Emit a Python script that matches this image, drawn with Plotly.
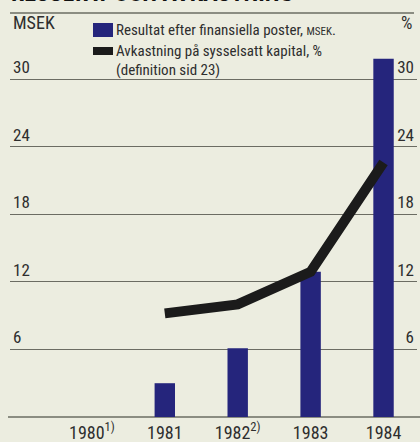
import plotly.graph_objects as go

# Data
years = ["1980", "1981", "1982", "1983", "1984"]
year_notes = ["1)", "", "2)", "", ""]
result_msek = [None, 3.0, 6.1, 12.9, 31.8]      # Resultat efter finansiella poster, MSEK
return_pct = [None, 9.2, 10.0, 12.9, 22.6]      # Avkastning på sysselsatt kapital, %
y_ticks = [6, 12, 18, 24, 30]

title_text = "RESULTAT OCH AVKASTNING"
legend_bar = "Resultat efter finansiella poster, <span style='font-size:11px'>MSEK</span>."
legend_line = "Avkastning på sysselsatt kapital, %"
legend_note = "(definition sid 23)"

# Styling
W, H = 420, 442
L, R, T, B = 10, 417, 34, 417          # plot area in pixels
BG = "#ecede0"
BAR = "#25257c"
LINE = "#1b1b1b"
GRID = "#6b6c63"
TXT = "#2e2e2e"
FONT = "Liberation Sans Narrow, Roboto Condensed, Arial Narrow, Liberation Sans, sans-serif"


def xp(px):
    return (px - L) / (R - L)


def yp(py):
    return (B - py) / (B - T)


x_idx = list(range(len(years)))
tick_text = [y + (f"<sup>{n}</sup>" if n else "") for y, n in zip(years, year_notes)]

fig = go.Figure()
fig.add_trace(go.Bar(
    x=x_idx, y=result_msek, width=0.28, marker=dict(color=BAR, line_width=0),
    name="Resultat efter finansiella poster, MSEK", yaxis="y",
))
fig.add_trace(go.Scatter(
    x=x_idx, y=return_pct, mode="lines", line=dict(color=LINE, width=10),
    name="Avkastning på sysselsatt kapital, %", yaxis="y2", connectgaps=False,
))

ymax = 34
fig.update_layout(
    width=W, height=H,
    margin=dict(l=L, r=W - R, t=T, b=H - B, pad=0, autoexpand=False),
    paper_bgcolor=BG, plot_bgcolor=BG,
    showlegend=False,
    font=dict(family=FONT, color=TXT, size=17),
    xaxis=dict(
        range=[-1.123, 4.459], tickvals=x_idx, ticktext=tick_text, automargin=False,
        showgrid=False, zeroline=False, showline=False, ticks="",
        tickfont=dict(size=18, color=TXT), ticklabelstandoff=3,
    ),
    yaxis=dict(
        range=[0, ymax], tickvals=y_ticks, showgrid=True, gridcolor=GRID, gridwidth=1.3,
        zeroline=False, showline=False, ticks="", automargin=False,
        ticklabelposition="inside top", tickfont=dict(size=17, color=TXT),
    ),
    yaxis2=dict(
        range=[0, ymax], tickvals=y_ticks, overlaying="y", side="right",
        showgrid=False, zeroline=False, showline=False, ticks="", automargin=False,
        ticklabelposition="inside top", tickfont=dict(size=17, color=TXT),
    ),
)

# baseline and top rule
fig.add_shape(type="line", xref="paper", yref="paper", x0=xp(8), x1=xp(420), y0=0, y1=0,
              line=dict(color=GRID, width=1.5), layer="below")
fig.add_shape(type="line", xref="paper", yref="paper", x0=xp(10), x1=xp(414), y0=yp(13), y1=yp(13),
              line=dict(color=GRID, width=1.3))

# title (partly outside the page top)
fig.add_annotation(text=f"<b>{title_text}</b>", xref="paper", yref="paper",
                   x=xp(9), y=yp(9), xanchor="left", yanchor="bottom", showarrow=False,
                   font=dict(size=24, color="#111", family=FONT))

# axis unit labels
fig.add_annotation(text="MSEK", xref="paper", yref="paper", x=xp(11), y=yp(22),
                   xanchor="left", yanchor="middle", showarrow=False, font=dict(size=18))
fig.add_annotation(text="%", xref="paper", yref="paper", x=xp(414), y=yp(22),
                   xanchor="right", yanchor="middle", showarrow=False, font=dict(size=18))

# legend
fig.add_shape(type="rect", xref="paper", yref="paper", x0=xp(93), x1=xp(113), y0=yp(37), y1=yp(23),
              fillcolor=BAR, line_width=0)
fig.add_shape(type="rect", xref="paper", yref="paper", x0=xp(93), x1=xp(113), y0=yp(55), y1=yp(47),
              fillcolor=LINE, line_width=0)
for txt, cy in [(legend_bar, 30), (legend_line, 51), (legend_note, 70)]:
    fig.add_annotation(text=txt, xref="paper", yref="paper", x=xp(114), y=yp(cy),
                       xanchor="left", yanchor="middle", showarrow=False, font=dict(size=15))

fig.write_html("out.html")
